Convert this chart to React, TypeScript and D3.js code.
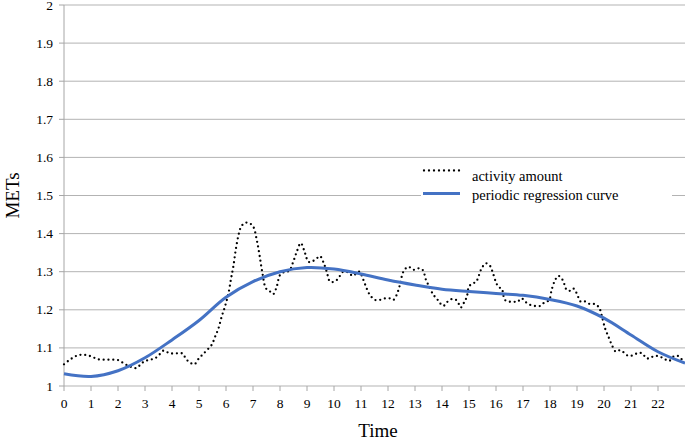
import React, { useRef, useEffect } from "react";
import * as d3 from "d3";

// activity amount (dotted)
const activityTime = [
  0, 0.16, 0.35, 0.53, 0.72, 0.9, 1.09, 1.27, 1.5, 1.75, 2, 2.2, 2.38, 2.55, 2.69, 2.88,
  3.03, 3.2, 3.38, 3.54, 3.69, 3.88, 4.05, 4.25, 4.4, 4.5, 4.62, 4.83, 4.97, 5.1, 5.28,
  5.47, 5.6, 5.72, 5.84, 5.96, 6.09, 6.19, 6.27, 6.36, 6.46, 6.56, 6.7, 6.85, 7.01, 7.14,
  7.24, 7.34, 7.48, 7.63, 7.75, 7.88, 8, 8.19, 8.34, 8.49, 8.62, 8.77, 8.93, 9.05, 9.17,
  9.36, 9.48, 9.6, 9.73, 9.85, 9.97, 10.1, 10.22, 10.34, 10.53, 10.69, 10.84, 10.94,
  11.09, 11.21, 11.33, 11.52, 11.7, 11.89, 12.07, 12.2, 12.32, 12.44, 12.57, 12.75,
  12.94, 13.12, 13.28, 13.41, 13.56, 13.68, 13.8, 13.93, 14.05, 14.2, 14.36, 14.52,
  14.64, 14.7, 14.83, 14.92, 15, 15.14, 15.27, 15.35, 15.47, 15.63, 15.78, 15.87, 15.99,
  16.1, 16.21, 16.33, 16.52, 16.7, 16.8, 16.95, 17.07, 17.26, 17.44, 17.63, 17.75,
  17.88, 17.98, 18.06, 18.19, 18.31, 18.47, 18.62, 18.74, 18.86, 18.99, 19.14, 19.3,
  19.48, 19.67, 19.83, 19.91, 20.04, 20.16, 20.32, 20.44, 20.59, 20.75, 20.9, 21.09,
  21.27, 21.43, 21.56, 21.7, 21.86, 22.07, 22.26, 22.42, 22.57, 22.73, 22.88, 23,
];
const activityMets = [
  1.057, 1.066, 1.075, 1.081, 1.082, 1.08, 1.075, 1.07, 1.069, 1.069, 1.068, 1.06, 1.053,
  1.049, 1.047, 1.06, 1.066, 1.069, 1.073, 1.083, 1.093, 1.087, 1.085, 1.086, 1.085,
  1.073, 1.064, 1.057, 1.07, 1.08, 1.093, 1.108, 1.13, 1.151, 1.182, 1.208, 1.243, 1.283,
  1.313, 1.357, 1.395, 1.418, 1.428, 1.428, 1.418, 1.383, 1.344, 1.3, 1.256, 1.248,
  1.241, 1.261, 1.291, 1.3, 1.302, 1.326, 1.352, 1.375, 1.348, 1.326, 1.326, 1.335,
  1.341, 1.326, 1.3, 1.274, 1.273, 1.278, 1.289, 1.3, 1.298, 1.289, 1.296, 1.3, 1.278,
  1.256, 1.239, 1.226, 1.226, 1.23, 1.23, 1.226, 1.239, 1.265, 1.3, 1.313, 1.305, 1.309,
  1.305, 1.278, 1.256, 1.239, 1.23, 1.217, 1.21, 1.221, 1.228, 1.226, 1.213, 1.206,
  1.221, 1.234, 1.261, 1.269, 1.274, 1.287, 1.309, 1.322, 1.315, 1.3, 1.274, 1.259,
  1.256, 1.226, 1.221, 1.221, 1.221, 1.23, 1.222, 1.213, 1.21, 1.21, 1.217, 1.221,
  1.227, 1.252, 1.278, 1.289, 1.278, 1.252, 1.25, 1.256, 1.243, 1.221, 1.222, 1.215,
  1.215, 1.204, 1.186, 1.151, 1.13, 1.103, 1.09, 1.094, 1.087, 1.079, 1.081, 1.087,
  1.085, 1.073, 1.073, 1.079, 1.077, 1.07, 1.066, 1.077, 1.079, 1.07, 1.068,
];

// periodic regression curve, hourly
const curveTime = d3.range(0, 24);
const curveMets = [
  1.032, 1.025, 1.04, 1.074, 1.121, 1.172, 1.233, 1.274, 1.3, 1.311, 1.307, 1.294, 1.278,
  1.265, 1.254, 1.248, 1.243, 1.238, 1.227, 1.21, 1.178, 1.134, 1.09, 1.06,
];

const xTicks = d3.range(0, 23);
const yTicks = d3.range(0, 11).map((i) => 1 + i / 10);

const width = 685;
const height = 439;
const margin = { left: 64, top: 5, right: 0, bottom: 53 };

const App: React.FC = () => {
  const svg = useRef<SVGSVGElement>(null);

  useEffect(() => {
    const root = d3.select(svg.current);
    root.selectAll("*").remove();

    const x = d3.scaleLinear().domain([0, 23]).range([margin.left, width - margin.right]);
    const y = d3.scaleLinear().domain([1, 2]).range([height - margin.bottom, margin.top]);

    const font = "'Liberation Serif', 'Times New Roman', serif";

    // gridlines
    root
      .append("g")
      .selectAll("line")
      .data(yTicks)
      .join("line")
      .attr("x1", margin.left)
      .attr("x2", width)
      .attr("y1", (d) => y(d))
      .attr("y2", (d) => y(d))
      .attr("stroke", "#b3b3b3")
      .attr("stroke-width", 1);

    // y axis line
    root
      .append("line")
      .attr("x1", margin.left)
      .attr("x2", margin.left)
      .attr("y1", y(2))
      .attr("y2", y(1))
      .attr("stroke", "#a6a6a6");

    // y tick marks + labels
    root
      .append("g")
      .selectAll("line")
      .data(yTicks)
      .join("line")
      .attr("x1", margin.left - 5)
      .attr("x2", margin.left)
      .attr("y1", (d) => y(d))
      .attr("y2", (d) => y(d))
      .attr("stroke", "#a6a6a6");

    root
      .append("g")
      .selectAll("text")
      .data(yTicks)
      .join("text")
      .attr("x", margin.left - 11)
      .attr("y", (d) => y(d) + 4.5)
      .attr("text-anchor", "end")
      .attr("font-family", font)
      .attr("font-size", 13.5)
      .attr("fill", "#000")
      .text((d) => d3.format("")(+d.toFixed(1)));

    // x tick marks + labels
    root
      .append("g")
      .selectAll("line")
      .data(xTicks)
      .join("line")
      .attr("x1", (d) => x(d))
      .attr("x2", (d) => x(d))
      .attr("y1", y(1))
      .attr("y2", y(1) + 5)
      .attr("stroke", "#a6a6a6");

    root
      .append("g")
      .selectAll("text")
      .data(xTicks)
      .join("text")
      .attr("x", (d) => x(d))
      .attr("y", y(1) + 22)
      .attr("text-anchor", "middle")
      .attr("font-family", font)
      .attr("font-size", 13.5)
      .attr("fill", "#000")
      .text((d) => String(d));

    // axis titles
    root
      .append("text")
      .attr("x", 378)
      .attr("y", 437)
      .attr("text-anchor", "middle")
      .attr("font-family", font)
      .attr("font-size", 19)
      .text("Time");

    root
      .append("text")
      .attr("transform", `translate(19, ${y(1.5)}) rotate(-90)`)
      .attr("text-anchor", "middle")
      .attr("font-family", font)
      .attr("font-size", 19)
      .text("METs");

    // regression curve
    const curveLine = d3
      .line<number>()
      .x((d, i) => x(curveTime[i]))
      .y((d) => y(d))
      .curve(d3.curveCatmullRom.alpha(0.5));

    // activity
    const actLine = d3
      .line<number>()
      .x((d, i) => x(activityTime[i]))
      .y((d) => y(d))
      .curve(d3.curveCatmullRom.alpha(0.5));

    root
      .append("path")
      .attr("d", actLine(activityMets))
      .attr("fill", "none")
      .attr("stroke", "#000")
      .attr("stroke-width", 2.3)
      .attr("stroke-linecap", "round")
      .attr("stroke-dasharray", "0 4.8");

    root
      .append("path")
      .attr("d", curveLine(curveMets))
      .attr("fill", "none")
      .attr("stroke", "#4472c4")
      .attr("stroke-width", 3);

    // legend
    const lg = root.append("g");
    lg.append("rect")
      .attr("x", 421)
      .attr("y", 161)
      .attr("width", 251)
      .attr("height", 45)
      .attr("fill", "#fff");
    lg.append("line")
      .attr("x1", 424)
      .attr("x2", 460)
      .attr("y1", 170.5)
      .attr("y2", 170.5)
      .attr("stroke", "#000")
      .attr("stroke-width", 2.3)
      .attr("stroke-linecap", "round")
      .attr("stroke-dasharray", "0 5");
    lg.append("line")
      .attr("x1", 423)
      .attr("x2", 460)
      .attr("y1", 193.5)
      .attr("y2", 193.5)
      .attr("stroke", "#4472c4")
      .attr("stroke-width", 3);
    lg.append("text")
      .attr("x", 472)
      .attr("y", 181)
      .attr("font-family", font)
      .attr("font-size", 14.5)
      .text("activity amount");
    lg.append("text")
      .attr("x", 472)
      .attr("y", 199.5)
      .attr("font-family", font)
      .attr("font-size", 14.5)
      .text("periodic regression curve");
  }, []);

  return (
    <svg
      ref={svg}
      width={width}
      height={height}
      style={{ position: "absolute", left: 0, top: 0, background: "#fff" }}
    />
  );
};

export default App;
